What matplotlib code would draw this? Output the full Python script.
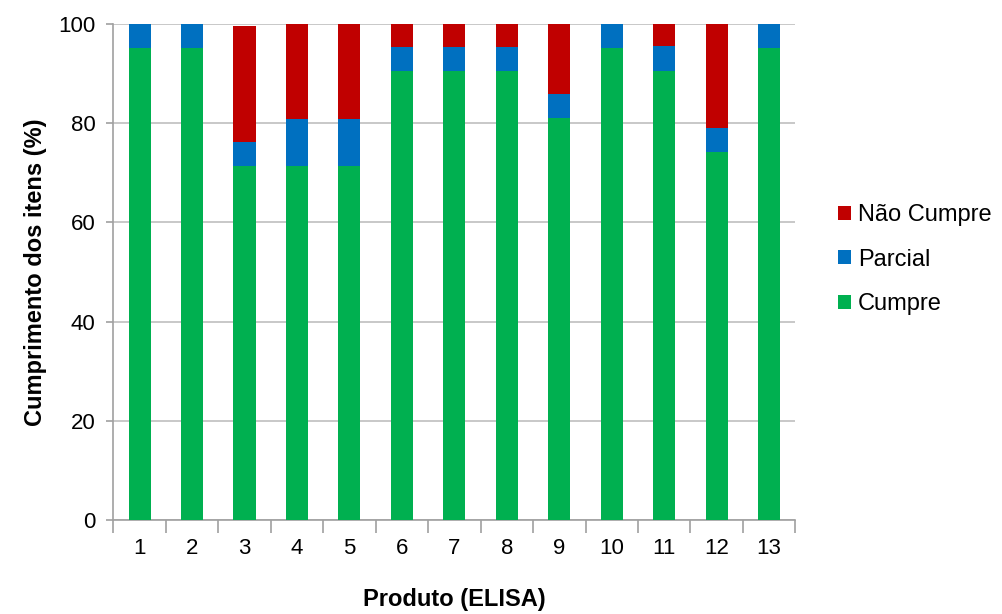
import matplotlib.pyplot as plt
import numpy as np

plt.rcParams['font.family'] = ['Liberation Sans', 'DejaVu Sans']

# dados (%)
produtos = ['1', '2', '3', '4', '5', '6', '7', '8', '9', '10', '11', '12', '13']
cumpre = [95.2, 95.2, 71.4, 71.4, 71.4, 90.5, 90.5, 90.5, 81.0, 95.2, 90.6, 74.2, 95.2]
parcial = [4.8, 4.8, 4.8, 9.5, 9.5, 4.8, 4.8, 4.8, 4.8, 4.8, 4.9, 4.9, 4.8]
nao_cumpre = [0, 0, 23.4, 19.1, 19.1, 4.7, 4.7, 4.7, 14.2, 0, 4.5, 20.9, 0]

fig = plt.figure(figsize=(10.03, 6.14), dpi=100)
ax = fig.add_axes([0.113, 0.153, 0.68, 0.808])

x = np.arange(len(produtos))
w = 0.42
cumpre = np.array(cumpre)
parcial = np.array(parcial)
ax.bar(x, cumpre, w, color='#00B050', label='Cumpre', zorder=3)
ax.bar(x, parcial, w, bottom=cumpre, color='#0070C0', label='Parcial', zorder=3)
ax.bar(x, nao_cumpre, w, bottom=cumpre + parcial, color='#C00000', label='Não Cumpre', zorder=3)

ax.set_xlim(-0.5, len(produtos) - 0.5)
ax.set_ylim(0, 100)
ax.set_yticks(range(0, 101, 20))
ax.yaxis.grid(True, color='#BFBFBF', linewidth=1.2, zorder=0)

# rotulos no centro, marcas entre as categorias
ax.set_xticks(x)
ax.set_xticklabels(produtos)
ax.set_xticks(np.arange(-0.5, len(produtos)), minor=True)
ax.tick_params(axis='x', which='major', length=0, pad=13, labelsize=16)
ax.tick_params(axis='x', which='minor', length=9, color='#A0A0A0', width=1.2)
ax.tick_params(axis='y', length=5, color='#A0A0A0', width=1.2, labelsize=16, pad=8)

for s in ['top', 'right']:
    ax.spines[s].set_visible(False)
for s in ['left', 'bottom']:
    ax.spines[s].set_color('#A0A0A0')
    ax.spines[s].set_linewidth(1.2)

ax.set_xlabel('Produto (ELISA)', fontsize=17, fontweight='bold', labelpad=21)
ax.set_ylabel('Cumprimento dos itens (%)', fontsize=17, fontweight='bold', labelpad=8)

h, l = ax.get_legend_handles_labels()
fig.legend(h[::-1], l[::-1], loc='center left', bbox_to_anchor=(0.826, 0.577),
           frameon=False, fontsize=17, handlelength=0.55, handleheight=0.55,
           handletextpad=0.3, labelspacing=0.95, borderaxespad=0)

fig.savefig('out.png', dpi=100)
